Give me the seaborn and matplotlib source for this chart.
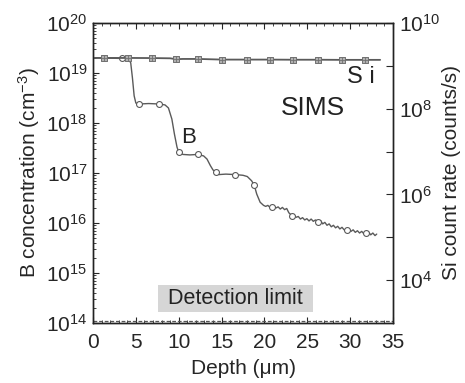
import numpy as np
import pandas as pd
import matplotlib
matplotlib.use("Agg")
import matplotlib.pyplot as plt
import matplotlib.ticker as mticker
from matplotlib.patches import Rectangle
import seaborn as sns

# B depth profile (cm^-3)
b_depth = [0, 1.3, 3.4, 4.1, 4.4, 4.6, 4.8, 5.0, 5.4, 6.5, 7.7, 8.4, 8.8, 9.2, 9.5, 9.8,
           10.0, 10.5, 11.3, 12.2, 12.9, 13.3, 13.7, 14.0, 14.3, 14.7, 15.5, 16.6, 17.5,
           18.0, 18.5, 18.8, 19.1, 19.5, 19.9, 20.15, 20.4, 20.65, 20.85, 21.1, 21.35,
           21.6, 21.85, 22.1, 22.35, 22.6, 22.85, 23.2, 23.45, 23.7, 23.95, 24.2, 24.45,
           24.7, 24.95, 25.2, 25.45, 25.7, 25.95, 26.3, 26.55, 26.8, 27.05, 27.3, 27.55,
           27.8, 28.05, 28.3, 28.55, 28.8, 29.05, 29.3, 29.6, 29.85, 30.1, 30.35, 30.6,
           30.85, 31.1, 31.35, 31.6, 31.9, 32.15, 32.4, 32.65, 32.9, 33.1]
b_conc = [2.0e19, 2.0e19, 1.95e19, 1.95e19, 1.6e19, 8e18, 3.5e18, 2.5e18, 2.4e18, 2.45e18,
          2.4e18, 2.3e18, 2.0e18, 1.2e18, 6e17, 3.3e17, 2.6e17, 2.35e17, 2.3e17, 2.35e17,
          2.2e17, 1.9e17, 1.4e17, 1.15e17, 1.05e17, 9.3e16, 9.5e16, 9.3e16, 9.0e16, 8.5e16,
          7e16, 5.8e16, 3.8e16, 2.6e16, 2.25e16, 2.15e16, 2.25e16, 2.05e16, 2.1e16, 2.2e16,
          2.0e16, 2.1e16, 1.9e16, 2.05e16, 1.85e16, 1.95e16, 1.6e16, 1.4e16, 1.45e16,
          1.3e16, 1.35e16, 1.2e16, 1.28e16, 1.15e16, 1.22e16, 1.1e16, 1.2e16, 1.08e16,
          1.15e16, 1.07e16, 1.12e16, 9.6e15, 1.03e16, 9.0e15, 9.6e15, 8.4e15, 9.0e15,
          8.0e15, 8.6e15, 7.6e15, 8.2e15, 7.3e15, 7.2e15, 7.6e15, 6.8e15, 7.3e15, 6.5e15,
          7.0e15, 6.3e15, 6.8e15, 6.1e15, 6.2e15, 6.6e15, 5.8e15, 6.3e15, 5.6e15, 6.0e15]

# B marker points (open circles)
b_mark_depth = [1.3, 3.4, 5.4, 7.7, 10.0, 12.2, 14.3, 16.6, 18.8, 20.85, 23.2, 26.3, 29.6, 31.9]
b_mark_conc = [2.0e19, 1.95e19, 2.4e18, 2.4e18, 2.6e17, 2.35e17, 1.05e17, 9.3e16, 5.8e16,
               2.1e16, 1.4e16, 1.07e16, 7.2e15, 6.2e15]

# Si count rate (counts/s)
si_depth = [0, 1.3, 4.1, 6.9, 9.0, 9.7, 10.5, 12.3, 15.1, 18.0, 20.6, 23.3, 26.2, 29.0, 31.7, 33.5]
si_rate = [1.53e9, 1.53e9, 1.53e9, 1.52e9, 1.5e9, 1.43e9, 1.45e9, 1.45e9, 1.4e9, 1.4e9,
           1.4e9, 1.39e9, 1.39e9, 1.38e9, 1.38e9, 1.38e9]
si_mark_depth = [1.3, 4.1, 6.9, 9.7, 12.3, 15.1, 18.0, 20.6, 23.3, 26.2, 29.0, 31.7]
si_mark_rate = [1.53e9, 1.53e9, 1.52e9, 1.43e9, 1.45e9, 1.4e9, 1.4e9, 1.4e9, 1.39e9, 1.39e9,
                1.38e9, 1.38e9]

detection_limit = 1.1e14

b_df = pd.DataFrame({"depth": b_depth, "conc": b_conc})
si_df = pd.DataFrame({"depth": si_depth, "rate": si_rate})

sns.set_style("ticks", {"xtick.direction": "in", "ytick.direction": "in"})
plt.rcParams["font.family"] = ["Liberation Sans", "DejaVu Sans"]
plt.rcParams["mathtext.default"] = "regular"

line_col = "#5a5a5a"
text_col = "#222222"

fig = plt.figure(figsize=(4.65, 3.83), dpi=100)
ax = fig.add_axes([93 / 465, 1 - 323 / 383, 300 / 465, 300 / 383])
ax2 = ax.twinx()

# B profile on the left axis
sns.lineplot(data=b_df, x="depth", y="conc", ax=ax, color=line_col, lw=1.0,
             sort=False, estimator=None)
sns.scatterplot(x=b_mark_depth, y=b_mark_conc, ax=ax, marker="o", s=18,
                facecolor="white", edgecolor=line_col, linewidth=0.8, zorder=4)
ax.axhline(detection_limit, color="#555555", lw=0.9, ls=(0, (3, 1.5)))

# Si on the right axis
sns.lineplot(data=si_df, x="depth", y="rate", ax=ax2, color=line_col, lw=1.3,
             sort=False, estimator=None)
sns.scatterplot(x=si_mark_depth, y=si_mark_rate, ax=ax2, marker="s", s=16,
                facecolor="#b0b0b0", edgecolor="#707070", linewidth=0.7, zorder=4)
sns.scatterplot(x=si_mark_depth, y=si_mark_rate, ax=ax2, marker="+", s=14,
                color="#707070", linewidth=0.6, zorder=5)

ax.set_xlim(0, 35)
ax.set_yscale("log")
ax.set_ylim(1e14, 1e20)
ax2.set_yscale("log")
ax2.set_ylim(1e3, 1e10)

ax.xaxis.set_major_locator(mticker.MultipleLocator(5))
ax.xaxis.set_minor_locator(mticker.MultipleLocator(1))
ax.yaxis.set_major_locator(mticker.LogLocator(base=10, numticks=10))
ax.yaxis.set_minor_locator(mticker.LogLocator(base=10, subs=np.arange(2, 10), numticks=20))
ax.yaxis.set_minor_formatter(mticker.NullFormatter())
ax.tick_params(which="both", direction="in", top=True, right=False, labelsize=15, pad=4)
ax.tick_params(axis="x", which="both", pad=7)
ax.tick_params(which="major", length=4, width=0.8)
ax.tick_params(which="minor", length=2.2, width=0.6)

ax2.yaxis.set_major_locator(mticker.FixedLocator([1e4, 1e6, 1e8, 1e10]))
ax2.yaxis.set_minor_locator(mticker.FixedLocator([1e5, 1e7, 1e9]))
ax2.yaxis.set_minor_formatter(mticker.NullFormatter())
ax2.tick_params(axis="y", which="both", direction="in", length=5, width=0.8, labelsize=15, pad=4)

ax.set_xlabel("Depth (μm)", fontsize=15, labelpad=5)
ax.set_ylabel("B concentration (cm$^{-3}$)", fontsize=15, labelpad=3)
ax2.set_xlabel("")
ax2.set_ylabel("Si count rate (counts/s)", fontsize=15, labelpad=2)

for a in (ax, ax2):
    for s in a.spines.values():
        s.set_visible(True)
        s.set_linewidth(1.0)
        s.set_color(text_col)

# annotations
ax.text(31.3, 8.3e18, "S i", fontsize=17, ha="center", va="center", color=text_col)
ax.text(25.6, 2.0e18, "SIMS", fontsize=19, ha="center", va="center", color=text_col)
ax.text(11.1, 5.2e17, "B", fontsize=16, ha="center", va="center", color=text_col)
ax.add_patch(Rectangle((0.217, 0.037), 0.516, 0.09, transform=ax.transAxes,
                       facecolor="#d6d6d6", edgecolor="none", zorder=1))
ax.text(0.475, 0.082, "Detection limit", transform=ax.transAxes, fontsize=15.5,
        ha="center", va="center", color=text_col, zorder=2)

fig.savefig("out.png", dpi=100)
